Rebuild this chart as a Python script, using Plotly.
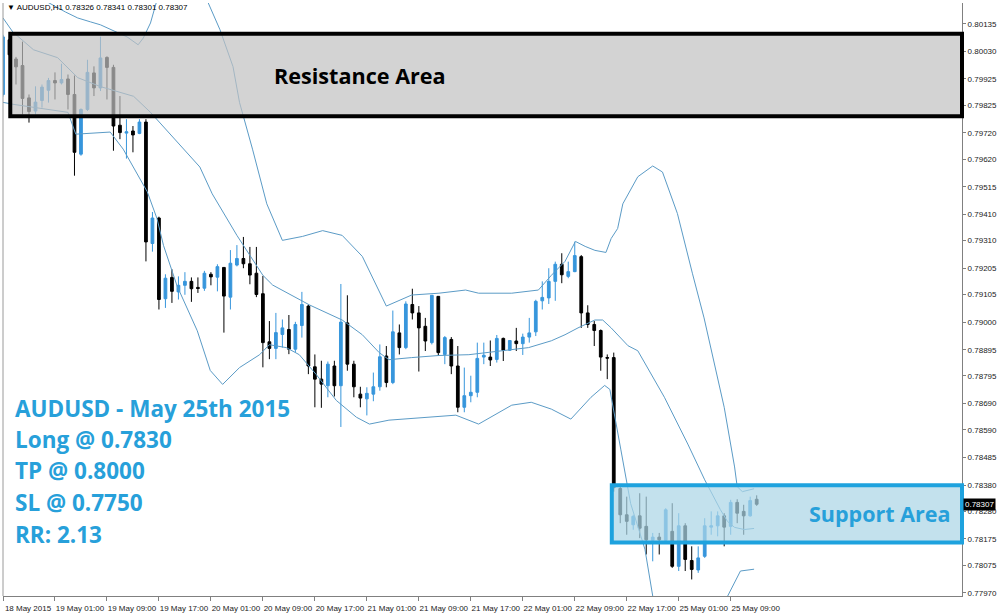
import plotly.graph_objects as go

# ---------------- data ----------------
candle_idx = list(range(117))

opens = [
    0.79866, 0.80074, 0.80001, 0.79976, 0.79853, 0.79803, 0.79843, 0.79882, 0.79919, 0.79910,
    0.79925, 0.79866, 0.79639, 0.79809, 0.79948, 0.79891, 0.80007, 0.79969, 0.79749, 0.79719,
    0.79727, 0.79718, 0.79761, 0.79299, 0.79396, 0.79089, 0.79170, 0.79115, 0.79140, 0.79155,
    0.79132, 0.79129, 0.79182, 0.79171, 0.79208, 0.79095, 0.79217, 0.79242, 0.79222, 0.79186,
    0.79108, 0.78925, 0.78900, 0.78953, 0.78972, 0.78897, 0.78987, 0.79061, 0.78830, 0.78783,
    0.78758, 0.78833, 0.78758, 0.78997, 0.78840, 0.78726, 0.78708, 0.78726, 0.78754, 0.78871,
    0.78770, 0.78959, 0.78903, 0.79067, 0.79035, 0.78984, 0.78922, 0.79098, 0.78877, 0.78934,
    0.78833, 0.78676, 0.78720, 0.78733, 0.78867, 0.78867, 0.78858, 0.78938, 0.78893, 0.78928,
    0.78918, 0.78943, 0.78963, 0.79081, 0.79092, 0.79155, 0.79220, 0.79174, 0.79192, 0.79249,
    0.79035, 0.78991, 0.78968, 0.78865, 0.78865, 0.78367, 0.78267, 0.78229, 0.78263, 0.78223,
    0.78170, 0.78182, 0.78170, 0.78204, 0.78071, 0.78225, 0.78093, 0.78057, 0.78109, 0.78220,
    0.78225, 0.78263, 0.78223, 0.78314, 0.78280, 0.78263, 0.78326,
]
highs = [
    0.80093, 0.80093, 0.80009, 0.80067, 0.79866, 0.79897, 0.79904, 0.79929, 0.79950, 0.79983,
    0.79942, 0.79938, 0.79813, 0.79998, 0.79973, 0.80086, 0.80011, 0.79979, 0.79860, 0.79772,
    0.79746, 0.79772, 0.79772, 0.79419, 0.79401, 0.79182, 0.79201, 0.79174, 0.79190, 0.79170,
    0.79170, 0.79195, 0.79190, 0.79220, 0.79208, 0.79274, 0.79293, 0.79324, 0.79286, 0.79286,
    0.79176, 0.79004, 0.79035, 0.79010, 0.79027, 0.79001, 0.79115, 0.79067, 0.78877, 0.78853,
    0.78850, 0.78853, 0.79145, 0.79102, 0.78853, 0.78754, 0.78752, 0.78808, 0.78915, 0.78909,
    0.79044, 0.78991, 0.79079, 0.79127, 0.79061, 0.79016, 0.79102, 0.79098, 0.78947, 0.78943,
    0.78909, 0.78827, 0.78796, 0.78922, 0.78922, 0.78930, 0.78951, 0.78941, 0.78930, 0.78978,
    0.78956, 0.79016, 0.79085, 0.79155, 0.79205, 0.79230, 0.79262, 0.79230, 0.79306, 0.79255,
    0.79064, 0.79004, 0.78972, 0.78877, 0.78884, 0.78374, 0.78336, 0.78267, 0.78349, 0.78336,
    0.78198, 0.78198, 0.78292, 0.78311, 0.78273, 0.78235, 0.78147, 0.78147, 0.78254, 0.78280,
    0.78280, 0.78273, 0.78324, 0.78326, 0.78305, 0.78336, 0.78341,
]
lows = [
    0.79858, 0.79991, 0.79904, 0.79790, 0.79759, 0.79790, 0.79816, 0.79835, 0.79847, 0.79904,
    0.79809, 0.79557, 0.79633, 0.79803, 0.79860, 0.79879, 0.79847, 0.79652, 0.79696, 0.79622,
    0.79646, 0.79715, 0.79231, 0.79268, 0.79048, 0.79054, 0.79073, 0.79086, 0.79104, 0.79077,
    0.79111, 0.79119, 0.79140, 0.79117, 0.78960, 0.79048, 0.79212, 0.79205, 0.79144, 0.79095,
    0.78828, 0.78859, 0.78859, 0.78903, 0.78878, 0.78885, 0.78941, 0.78802, 0.78676, 0.78674,
    0.78714, 0.78717, 0.78601, 0.78815, 0.78714, 0.78676, 0.78645, 0.78699, 0.78739, 0.78752,
    0.78764, 0.78877, 0.78897, 0.79010, 0.78812, 0.78890, 0.78915, 0.78871, 0.78840, 0.78802,
    0.78657, 0.78657, 0.78695, 0.78714, 0.78840, 0.78833, 0.78846, 0.78852, 0.78890, 0.78890,
    0.78875, 0.78922, 0.78947, 0.79048, 0.79069, 0.79081, 0.79148, 0.79167, 0.79190, 0.78978,
    0.78978, 0.78909, 0.78815, 0.78783, 0.78355, 0.78235, 0.78191, 0.78210, 0.78178, 0.78116,
    0.78090, 0.78116, 0.78166, 0.78065, 0.78053, 0.78053, 0.78021, 0.78046, 0.78103, 0.78191,
    0.78185, 0.78147, 0.78191, 0.78235, 0.78191, 0.78260, 0.78301,
]
closes = [
    0.80085, 0.80017, 0.79971, 0.79851, 0.79801, 0.79837, 0.79894, 0.79919, 0.79910, 0.79923,
    0.79866, 0.79646, 0.79809, 0.79950, 0.79891, 0.80005, 0.79969, 0.79746, 0.79721, 0.79724,
    0.79712, 0.79761, 0.79305, 0.79396, 0.79086, 0.79167, 0.79117, 0.79140, 0.79155, 0.79127,
    0.79128, 0.79186, 0.79172, 0.79211, 0.79099, 0.79224, 0.79242, 0.79222, 0.79179, 0.79105,
    0.78922, 0.78900, 0.78960, 0.78978, 0.78897, 0.78991, 0.79067, 0.78833, 0.78783, 0.78764,
    0.78840, 0.78758, 0.79000, 0.78840, 0.78754, 0.78711, 0.78729, 0.78754, 0.78868, 0.78770,
    0.78963, 0.78903, 0.79069, 0.79035, 0.78978, 0.78928, 0.79102, 0.78884, 0.78941, 0.78833,
    0.78676, 0.78720, 0.78733, 0.78862, 0.78874, 0.78856, 0.78938, 0.78893, 0.78930, 0.78918,
    0.78943, 0.78959, 0.79079, 0.79094, 0.79155, 0.79220, 0.79180, 0.79192, 0.79253, 0.79035,
    0.78991, 0.78968, 0.78867, 0.78863, 0.78370, 0.78267, 0.78242, 0.78261, 0.78216, 0.78172,
    0.78182, 0.78172, 0.78286, 0.78071, 0.78225, 0.78097, 0.78059, 0.78103, 0.78225, 0.78225,
    0.78263, 0.78220, 0.78314, 0.78273, 0.78263, 0.78321, 0.78307,
]

# Bollinger bands
upper_x = [1.2, 6.3, 9.6, 11.5, 13.5, 15.0, 19.1, 20.8, 21.6, 22.7, 23.7, 25.7, 28.8, 31.4,
           33.4, 35.4, 36.4, 38.4, 40.6, 43.0, 46.1, 49.2, 52.2, 55.3, 59.0, 62.9, 67.1,
           71.2, 73.2, 78.3, 82.4, 84.4, 86.5, 88.1, 89.6, 91.1, 92.8, 93.6, 94.6, 95.4,
           97.7, 100.0, 101.5, 103.8, 106.1, 107.9, 111.0, 112.6, 113.0, 113.8, 115.6]
upper_y = [0.80319, 0.80225, 0.80180, 0.80157, 0.80142, 0.80131, 0.80085, 0.80055, 0.80081,
           0.80138, 0.80225, 0.80319, 0.80338, 0.80225, 0.80112, 0.79972, 0.79836, 0.79658,
           0.79450, 0.79311, 0.79326, 0.79348, 0.79330, 0.79250, 0.79061, 0.79103, 0.79110,
           0.79122, 0.79110, 0.79110, 0.79122, 0.79178, 0.79231, 0.79307, 0.79288, 0.79273,
           0.79265, 0.79318, 0.79356, 0.79450, 0.79553, 0.79594, 0.79571, 0.79413, 0.79186,
           0.79016, 0.78676, 0.78449, 0.78374, 0.78355, 0.78366]
middle_x = [0.0, 1.5, 4.7, 8.4, 11.5, 15.0, 20.1, 22.7, 30.3, 32.2, 36.0, 40.0, 41.5, 47.2,
            52.2, 55.3, 57.9, 59.4, 62.9, 67.1, 71.7, 74.7, 80.9, 84.4, 86.5, 88.5, 91.1,
            92.3, 93.6, 96.2, 97.7, 101.8, 105.4, 108.0, 110.4, 111.5, 112.6, 114.1, 115.6]
middle_y = [0.80157, 0.80104, 0.80036, 0.80006, 0.79930, 0.79896, 0.79859, 0.79798, 0.79590,
            0.79488, 0.79330, 0.79178, 0.79141, 0.79065, 0.79008, 0.78952, 0.78884, 0.78857,
            0.78865, 0.78873, 0.78876, 0.78884, 0.78903, 0.78929, 0.78952, 0.78978, 0.79008,
            0.79008, 0.78978, 0.78910, 0.78891, 0.78714, 0.78536, 0.78400, 0.78287, 0.78242,
            0.78219, 0.78211, 0.78215]
lower_x = [0.0, 1.7, 10.0, 11.2, 16.5, 18.5, 22.2, 23.7, 24.7, 26.8, 29.9, 31.9, 33.8, 36.4,
           39.5, 41.0, 43.6, 45.6, 48.2, 51.3, 54.4, 56.4, 59.4, 65.5, 69.7, 73.2, 78.3,
           81.3, 84.4, 87.4, 90.5, 92.6, 93.4, 95.1, 96.6, 98.8, 100.0, 102.3, 105.4, 109.2,
           111.9, 112.6, 113.5, 115.6]
lower_y = [0.79836, 0.79828, 0.79798, 0.79715, 0.79723, 0.79658, 0.79496, 0.79394, 0.79292,
           0.79137, 0.78967, 0.78816, 0.78763, 0.78827, 0.78876, 0.78914, 0.78903, 0.78876,
           0.78801, 0.78702, 0.78638, 0.78612, 0.78627, 0.78638, 0.78646, 0.78612, 0.78684,
           0.78695, 0.78669, 0.78631, 0.78714, 0.78759, 0.78744, 0.78514, 0.78310, 0.78136,
           0.77958, 0.77845, 0.77788, 0.77845, 0.77977, 0.78015, 0.78053, 0.78060]

x_tick_idx = [0, 8, 16, 24, 32, 40, 48, 56, 64, 72, 80, 88, 96, 104, 112]
x_tick_text = ["18 May 2015", "19 May 01:00", "19 May 09:00", "19 May 17:00", "20 May 01:00",
               "20 May 09:00", "20 May 17:00", "21 May 01:00", "21 May 09:00", "21 May 17:00",
               "22 May 01:00", "22 May 09:00", "22 May 17:00", "25 May 01:00", "25 May 09:00"]
y_tick_vals = [0.80135, 0.80030, 0.79925, 0.79825, 0.79720, 0.79620, 0.79515, 0.79410,
               0.79310, 0.79205, 0.79105, 0.79000, 0.78895, 0.78795, 0.78690, 0.78590,
               0.78485, 0.78380, 0.78280, 0.78175, 0.78075, 0.77970]

resistance_zone = (0.79783, 0.80097)
support_zone = (0.78162, 0.78379)
resistance_start = 1.12
support_start = 93.7
last_ohlc = (0.78326, 0.78341, 0.78301, 0.78307)

info_lines = ["AUDUSD - May 25th 2015", "Long @ 0.7830", "TP @ 0.8000", "SL @ 0.7750", "RR: 2.13"]

# ---------------- figure ----------------
X_MAX = 147.6
Y_RANGE = [0.77958, 0.80214]
BAND = "#5b9bc6"
UP = "#3796dc"
TXT_BLUE = "#27a0da"

fig = go.Figure()
for bx, by in [(upper_x, upper_y), (middle_x, middle_y), (lower_x, lower_y)]:
    fig.add_trace(go.Scatter(x=bx, y=by, mode="lines", line=dict(color=BAND, width=1),
                             hoverinfo="skip", showlegend=False))

fig.add_trace(go.Candlestick(
    x=candle_idx, open=opens, high=highs, low=lows, close=closes,
    increasing=dict(line=dict(color=UP, width=1), fillcolor=UP),
    decreasing=dict(line=dict(color="#000000", width=1), fillcolor="#000000"),
    whiskerwidth=0, showlegend=False))

# zone boxes (x in paper units so the right border sits on the price axis)
fig.add_shape(type="rect", xref="paper", yref="y", x0=resistance_start / X_MAX, x1=1.0,
              y0=resistance_zone[0], y1=resistance_zone[1],
              line=dict(color="#000000", width=4), fillcolor="rgba(193,193,193,0.71)",
              layer="above")
fig.add_shape(type="rect", xref="paper", yref="y", x0=support_start / X_MAX, x1=1.0,
              y0=support_zone[0], y1=support_zone[1],
              line=dict(color="#1ea2de", width=4), fillcolor="rgba(172,214,230,0.72)",
              layer="above")
fig.add_shape(type="line", xref="paper", yref="paper", x0=0, x1=0, y0=0, y1=1,
              line=dict(color="#9a9a9a", width=1))

fig.add_annotation(x=54.9, y=sum(resistance_zone) / 2, xref="x", yref="y",
                   text="<b>Resistance Area</b>", showarrow=False,
                   font=dict(family="Open Sans", size=21.6, color="#000000"))
fig.add_annotation(x=134.85, y=sum(support_zone) / 2, xref="x", yref="y",
                   text="<b>Support Area</b>", showarrow=False,
                   font=dict(family="Open Sans", size=21.5, color=TXT_BLUE))

line_px = [411, 442, 474, 506, 538]
for t, py in zip(info_lines, line_px):
    fig.add_annotation(x=(13 - 3) / 962, y=(600 - py) / 597, xref="paper", yref="paper",
                       xanchor="left", yanchor="middle", text="<b>%s</b>" % t,
                       showarrow=False, font=dict(family="Open Sans", size=22.5, color=TXT_BLUE))

fig.add_annotation(x=0.002, y=(600 - 8) / 597, xref="paper", yref="paper",
                   xanchor="left", yanchor="middle", showarrow=False,
                   text="▼ AUDUSD,H1 %.5f %.5f %.5f %.5f" % last_ohlc,
                   font=dict(family="Liberation Sans", size=8, color="#000000"))

fig.add_annotation(x=1, y=last_ohlc[3], xref="paper", yref="y", xanchor="left",
                   yanchor="middle", xshift=1, showarrow=False, text="%.5f" % last_ohlc[3],
                   bgcolor="#000000", borderpad=1,
                   font=dict(family="Liberation Sans", size=8, color="#ffffff"))

fig.update_layout(
    width=1000, height=616,
    margin=dict(l=3, r=35, t=3, b=16),
    paper_bgcolor="#ffffff", plot_bgcolor="#ffffff",
    boxgap=0.4,
    showlegend=False,
    xaxis=dict(range=[0, X_MAX], rangeslider=dict(visible=False), showgrid=False,
               zeroline=False, tickmode="array", tickvals=x_tick_idx, ticktext=x_tick_text,
               ticks="outside", ticklen=4, tickcolor="#808080", showline=True,
               linecolor="#808080", linewidth=1, ticklabelshift=25, ticklabelstandoff=0,
               tickfont=dict(family="Liberation Sans", size=8, color="#222222")),
    yaxis=dict(range=Y_RANGE, side="right", showgrid=False, zeroline=False,
               tickmode="array", tickvals=y_tick_vals,
               ticktext=["%.5f" % v for v in y_tick_vals],
               ticks="outside", ticklen=3, tickcolor="#808080", showline=True,
               linecolor="#808080", linewidth=1,
               tickfont=dict(family="Liberation Sans", size=8, color="#222222")),
)

fig.write_html("out.html", config={"displayModeBar": False},
               post_script="document.body.style.margin='0';")
